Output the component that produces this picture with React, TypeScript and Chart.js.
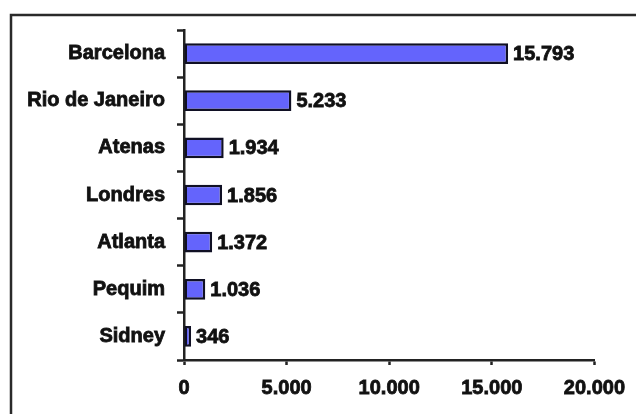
import React, { useEffect, useRef } from "react";
import { Chart, registerables } from "chart.js";

Chart.register(...registerables);

const cities = ["Barcelona", "Rio de Janeiro", "Atenas", "Londres", "Atlanta", "Pequim", "Sidney"];
const values = [15793, 5233, 1934, 1856, 1372, 1036, 346];
const xTicks = [0, 5000, 10000, 15000, 20000];

const FONT = '"Liberation Sans", Arial, sans-serif';

function fmt(n: number): string {
  const s = Math.round(n).toString();
  return s.replace(/\B(?=(\d{3})+(?!\d))/g, ".");
}

const framePlugin = {
  id: "frame",
  beforeDraw(chart: any) {
    const ctx = chart.ctx;
    ctx.save();
    ctx.fillStyle = "#ffffff";
    ctx.fillRect(0, 0, chart.width, chart.height);
    ctx.strokeStyle = "#2a2a2a";
    ctx.lineWidth = 2.5;
    ctx.strokeRect(11, 15, 800, 600);
    ctx.restore();
  },
};

const labelPlugin = {
  id: "valueLabels",
  afterDatasetsDraw(chart: any) {
    const ctx = chart.ctx;
    const meta = chart.getDatasetMeta(0);
    ctx.save();
    ctx.font = `bold 20px ${FONT}`;
    ctx.fillStyle = "#111111";
    ctx.strokeStyle = "#111111";
    ctx.lineWidth = 0.8;
    ctx.textAlign = "left";
    ctx.textBaseline = "middle";
    meta.data.forEach((bar: any, i: number) => {
      ctx.fillText(fmt(values[i]), bar.x + 5, bar.y + 1);
      ctx.strokeText(fmt(values[i]), bar.x + 5, bar.y + 1);
    });
    ctx.restore();
  },
};

export default function App() {
  const ref = useRef<HTMLCanvasElement | null>(null);

  useEffect(() => {
    if (!ref.current) return;
    const chart = new Chart(ref.current, {
      type: "bar",
      data: {
        labels: cities,
        datasets: [
          {
            data: values,
            backgroundColor: "#6464fc",
            borderColor: "#101024",
            borderWidth: 2.5,
            borderSkipped: false,
            barPercentage: 0.44,
            categoryPercentage: 1,
          },
        ],
      },
      options: {
        indexAxis: "y",
        responsive: false,
        animation: false,
        layout: { padding: { left: 0, right: 38, top: 30, bottom: 0 } },
        plugins: {
          legend: { display: false },
          tooltip: { enabled: false },
        },
        scales: {
          x: {
            min: 0,
            max: 20000,
            afterBuildTicks: (scale: any) => {
              scale.ticks = xTicks.map((v) => ({ value: v }));
            },
            afterFit: (scale: any) => {
              scale.height = 54;
            },
            grid: {
              drawOnChartArea: false,
              drawTicks: true,
              tickLength: 5,
              tickWidth: 2.5,
              tickColor: "#222222",
            },
            border: { display: true, color: "#222222", width: 2.5 },
            ticks: {
              padding: 11,
              color: "#111111",
              textStrokeColor: "#111111",
              textStrokeWidth: 0.8,
              font: { family: FONT, size: 20, weight: "bold" },
              callback: (v: any) => fmt(Number(v)),
              maxRotation: 0,
            },
          },
          y: {
            afterFit: (scale: any) => {
              scale.width = 184;
            },
            grid: {
              drawOnChartArea: false,
              drawTicks: true,
              tickLength: 7,
              tickWidth: 2.5,
              tickColor: "#222222",
              offset: true,
            },
            border: { display: true, color: "#222222", width: 2.5 },
            ticks: {
              padding: 12,
              color: "#111111",
              textStrokeColor: "#111111",
              textStrokeWidth: 0.8,
              font: { family: FONT, size: 20, weight: "bold" },
            },
          },
        },
      },
      plugins: [framePlugin, labelPlugin],
    });
    return () => chart.destroy();
  }, []);

  return (
    <div style={{ position: "fixed", left: 0, top: 0, width: 636, height: 414 }}>
      <canvas ref={ref} width={636} height={414} style={{ display: "block" }} />
    </div>
  );
}
